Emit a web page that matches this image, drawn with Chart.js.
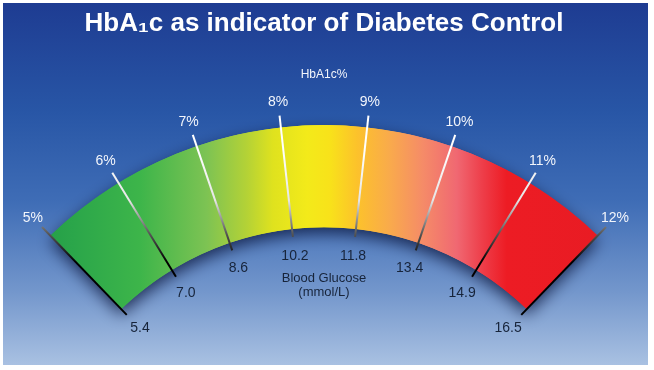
<!DOCTYPE html>
<html>
<head>
<meta charset="utf-8">
<script src="https://cdn.jsdelivr.net/npm/chart.js@4.4.1/dist/chart.umd.min.js"></script>
<style>
  html, body { margin: 0; padding: 0; background: #fff; }
</style>
</head>
<body>
<canvas id="gauge" width="654" height="370"></canvas>
<script>
// HbA1c scale and the matching mean blood glucose (mmol/L)
const hba1cPercent = [5, 6, 7, 8, 9, 10, 11, 12];
const bloodGlucose = [5.4, 7.0, 8.6, 10.2, 11.8, 13.4, 14.9, 16.5];
const bands = ['5-6%', '6-7%', '7-8%', '8-9%', '9-10%', '10-11%', '11-12%'];
const bandSize = [1, 1, 1, 1, 1, 1, 1];

const FONT = "'Liberation Sans', Arial, Helvetica, sans-serif";

// green -> yellow -> orange -> red, left to right
const bandColors = [
    [0.000, '#229a45'],
    [0.077, '#26a048'],
    [0.113, '#2ba64a'],
    [0.216, '#3db54a'],
    [0.319, '#7dc353'],
    [0.381, '#b4d236'],
    [0.421, '#dfe21e'],
    [0.474, '#f3ea1a'],
    [0.509, '#f8e21a'],
    [0.551, '#fcc22b'],
    [0.602, '#f9aa4c'],
    [0.653, '#f58b68'],
    [0.705, '#f06872'],
    [0.745, '#ee3d49'],
    [0.782, '#ed1c24'],
    [1.000, '#e61b23']
];

function bandGradient(chart) {
    const { ctx, chartArea } = chart;
    if (!chartArea) return '#8cc63f';
    const g = ctx.createLinearGradient(chartArea.left, 0, chartArea.right, 0);
    bandColors.forEach(s => g.addColorStop(s[0], s[1]));
    return g;
}

function arcGeom(chart) {
    const arcs = chart.getDatasetMeta(0).data;
    const first = arcs[0].getProps(['x', 'y', 'innerRadius', 'outerRadius', 'startAngle'], true);
    const angles = [first.startAngle];
    arcs.forEach(a => angles.push(a.getProps(['endAngle'], true).endAngle));
    return { x: first.x, y: first.y, inner: first.innerRadius, outer: first.outerRadius, angles: angles };
}

const backdrop = {
    id: 'backdrop',
    beforeDraw(chart) {
        const ctx = chart.ctx;
        ctx.save();
        ctx.fillStyle = '#fff';
        ctx.fillRect(0, 0, chart.width, chart.height);
        const g = ctx.createLinearGradient(0, 3, 0, 365);
        g.addColorStop(0, '#1e3c92');
        g.addColorStop(0.3, '#2856a6');
        g.addColorStop(0.55, '#3f6db6');
        g.addColorStop(0.8, '#7497cc');
        g.addColorStop(1, '#a9c1e2');
        ctx.fillStyle = g;
        ctx.fillRect(3, 3, 645, 362);
        ctx.restore();
    }
};

// soft drop shadow under the whole band
const bandShadow = {
    id: 'bandShadow',
    beforeDatasetsDraw(chart) {
        const ctx = chart.ctx;
        const a = arcGeom(chart);
        const n = a.angles.length - 1;
        ctx.save();
        ctx.shadowColor = 'rgba(6, 14, 50, 0.75)';
        ctx.shadowBlur = 16;
        ctx.shadowOffsetY = 6;
        ctx.beginPath();
        ctx.arc(a.x, a.y, a.outer, a.angles[0], a.angles[n]);
        ctx.arc(a.x, a.y, a.inner, a.angles[n], a.angles[0], true);
        ctx.closePath();
        ctx.fillStyle = bandGradient(chart);
        ctx.fill();
        ctx.restore();
    }
};

// tick lines plus the two label rings
const gaugeTicks = {
    id: 'gaugeTicks',
    afterDatasetsDraw(chart) {
        const ctx = chart.ctx;
        const a = arcGeom(chart);
        ctx.save();

        const lineGrad = ctx.createLinearGradient(0, 150, 0, 262);
        lineGrad.addColorStop(0, '#ffffff');
        lineGrad.addColorStop(0.45, '#e6e6e6');
        lineGrad.addColorStop(0.75, '#555555');
        lineGrad.addColorStop(1, '#000000');
        ctx.strokeStyle = lineGrad;
        ctx.lineWidth = 2;

        a.angles.forEach((ang, i) => {
            const c = Math.cos(ang), s = Math.sin(ang);
            ctx.beginPath();
            ctx.moveTo(a.x + c * (a.outer + 12), a.y + s * (a.outer + 12));
            ctx.lineTo(a.x + c * (a.inner - 8), a.y + s * (a.inner - 8));
            ctx.stroke();

            ctx.textAlign = 'center';
            ctx.textBaseline = 'middle';
            ctx.font = '14px ' + FONT;
            ctx.fillStyle = '#f2f5fb';
            ctx.fillText(hba1cPercent[i] + '%', a.x + c * (a.outer + 25), a.y + s * (a.outer + 25));
            ctx.fillStyle = '#17243a';
            ctx.fillText(bloodGlucose[i].toFixed(1), a.x + c * (a.inner - 27), a.y + s * (a.inner - 27));
        });

        ctx.textAlign = 'center';
        ctx.textBaseline = 'middle';
        ctx.font = '12px ' + FONT;
        ctx.fillStyle = '#f2f5fb';
        ctx.fillText('HbA1c%', a.x, a.y - a.outer - 50);
        ctx.font = '13px ' + FONT;
        ctx.fillStyle = '#17243a';
        ctx.fillText('Blood Glucose', a.x, a.y - a.inner + 51);
        ctx.fillText('(mmol/L)', a.x, a.y - a.inner + 65);
        ctx.restore();
    }
};

new Chart(document.getElementById('gauge'), {
    type: 'doughnut',
    data: {
        labels: bands,
        datasets: [{
            data: bandSize,
            backgroundColor: c => bandGradient(c.chart),
            borderWidth: 0,
            hoverOffset: 0
        }]
    },
    options: {
        responsive: false,
        animation: false,
        events: [],
        rotation: -44,
        circumference: 88,
        radius: 394,
        cutout: '74.1%',
        layout: { padding: { left: 0, right: 6, top: 0, bottom: 10 } },
        plugins: {
            legend: { display: false },
            tooltip: { enabled: false },
            title: {
                display: true,
                text: 'HbA₁c as indicator of Diabetes Control',
                color: '#ffffff',
                font: { family: FONT, size: 26, weight: 'bold', lineHeight: 1.2 },
                padding: { top: 8, bottom: 35 }
            }
        }
    },
    plugins: [backdrop, bandShadow, gaugeTicks]
});
</script>
</body>
</html>
